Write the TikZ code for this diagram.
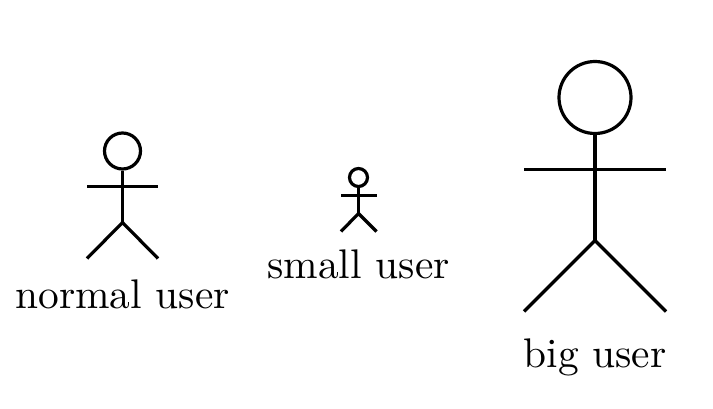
\documentclass[tikz,border=0pt]{standalone}
\newcommand{\lbltext}[1]{\scalebox{4.14}{\fontsize{10}{12}\selectfont #1}}
\tikzset{
  limb/.style={line width=3.2pt, line cap=butt, line join=miter},
  lab/.style={inner sep=0pt, anchor=base},
}
\begin{document}
\begin{tikzpicture}[x=1pt,y=-1pt,limb]
\useasboundingbox (0,0) rectangle (713,409);
% normal
\node[draw,circle,limb,minimum size=36pt,inner sep=0pt] (nh) at (122.5,151) {};
\coordinate (nn) at (122.5,222.5);
\coordinate (nal) at (87,186.5); \coordinate (nar) at (158,186.5);
\coordinate (nfl) at (87,258.5); \coordinate (nfr) at (158,258.5);
\draw (nh.south) -- (nn); \draw (nal) -- (nar); \draw (nfl) -- (nn) -- (nfr);
\node[lab] (nl) at (122.5,308) {\lbltext{normal user}};
% small
\node[draw,circle,limb,minimum size=18pt,inner sep=0pt] (sh) at (358.5,177.5) {};
\coordinate (sn) at (358.5,213.5);
\coordinate (sal) at (341,195.5); \coordinate (sar) at (376.5,195.5);
\coordinate (sfl) at (341,231.5); \coordinate (sfr) at (376.5,231.5);
\draw (sh.south) -- (sn); \draw (sal) -- (sar); \draw (sfl) -- (sn) -- (sfr);
\node[lab] (sl) at (358.5,279) {\lbltext{small user}};
% big
\node[draw,circle,limb,minimum size=72pt,inner sep=0pt] (bh) at (595,97.5) {};
\coordinate (bn) at (595,240.5);
\coordinate (bal) at (524,169.5); \coordinate (bar) at (666,169.5);
\coordinate (bfl) at (524,311.5); \coordinate (bfr) at (666,311.5);
\draw (bh.south) -- (bn); \draw (bal) -- (bar); \draw (bfl) -- (bn) -- (bfr);
\node[lab] (bl) at (595,367) {\lbltext{big user}};
\end{tikzpicture}
\end{document}
